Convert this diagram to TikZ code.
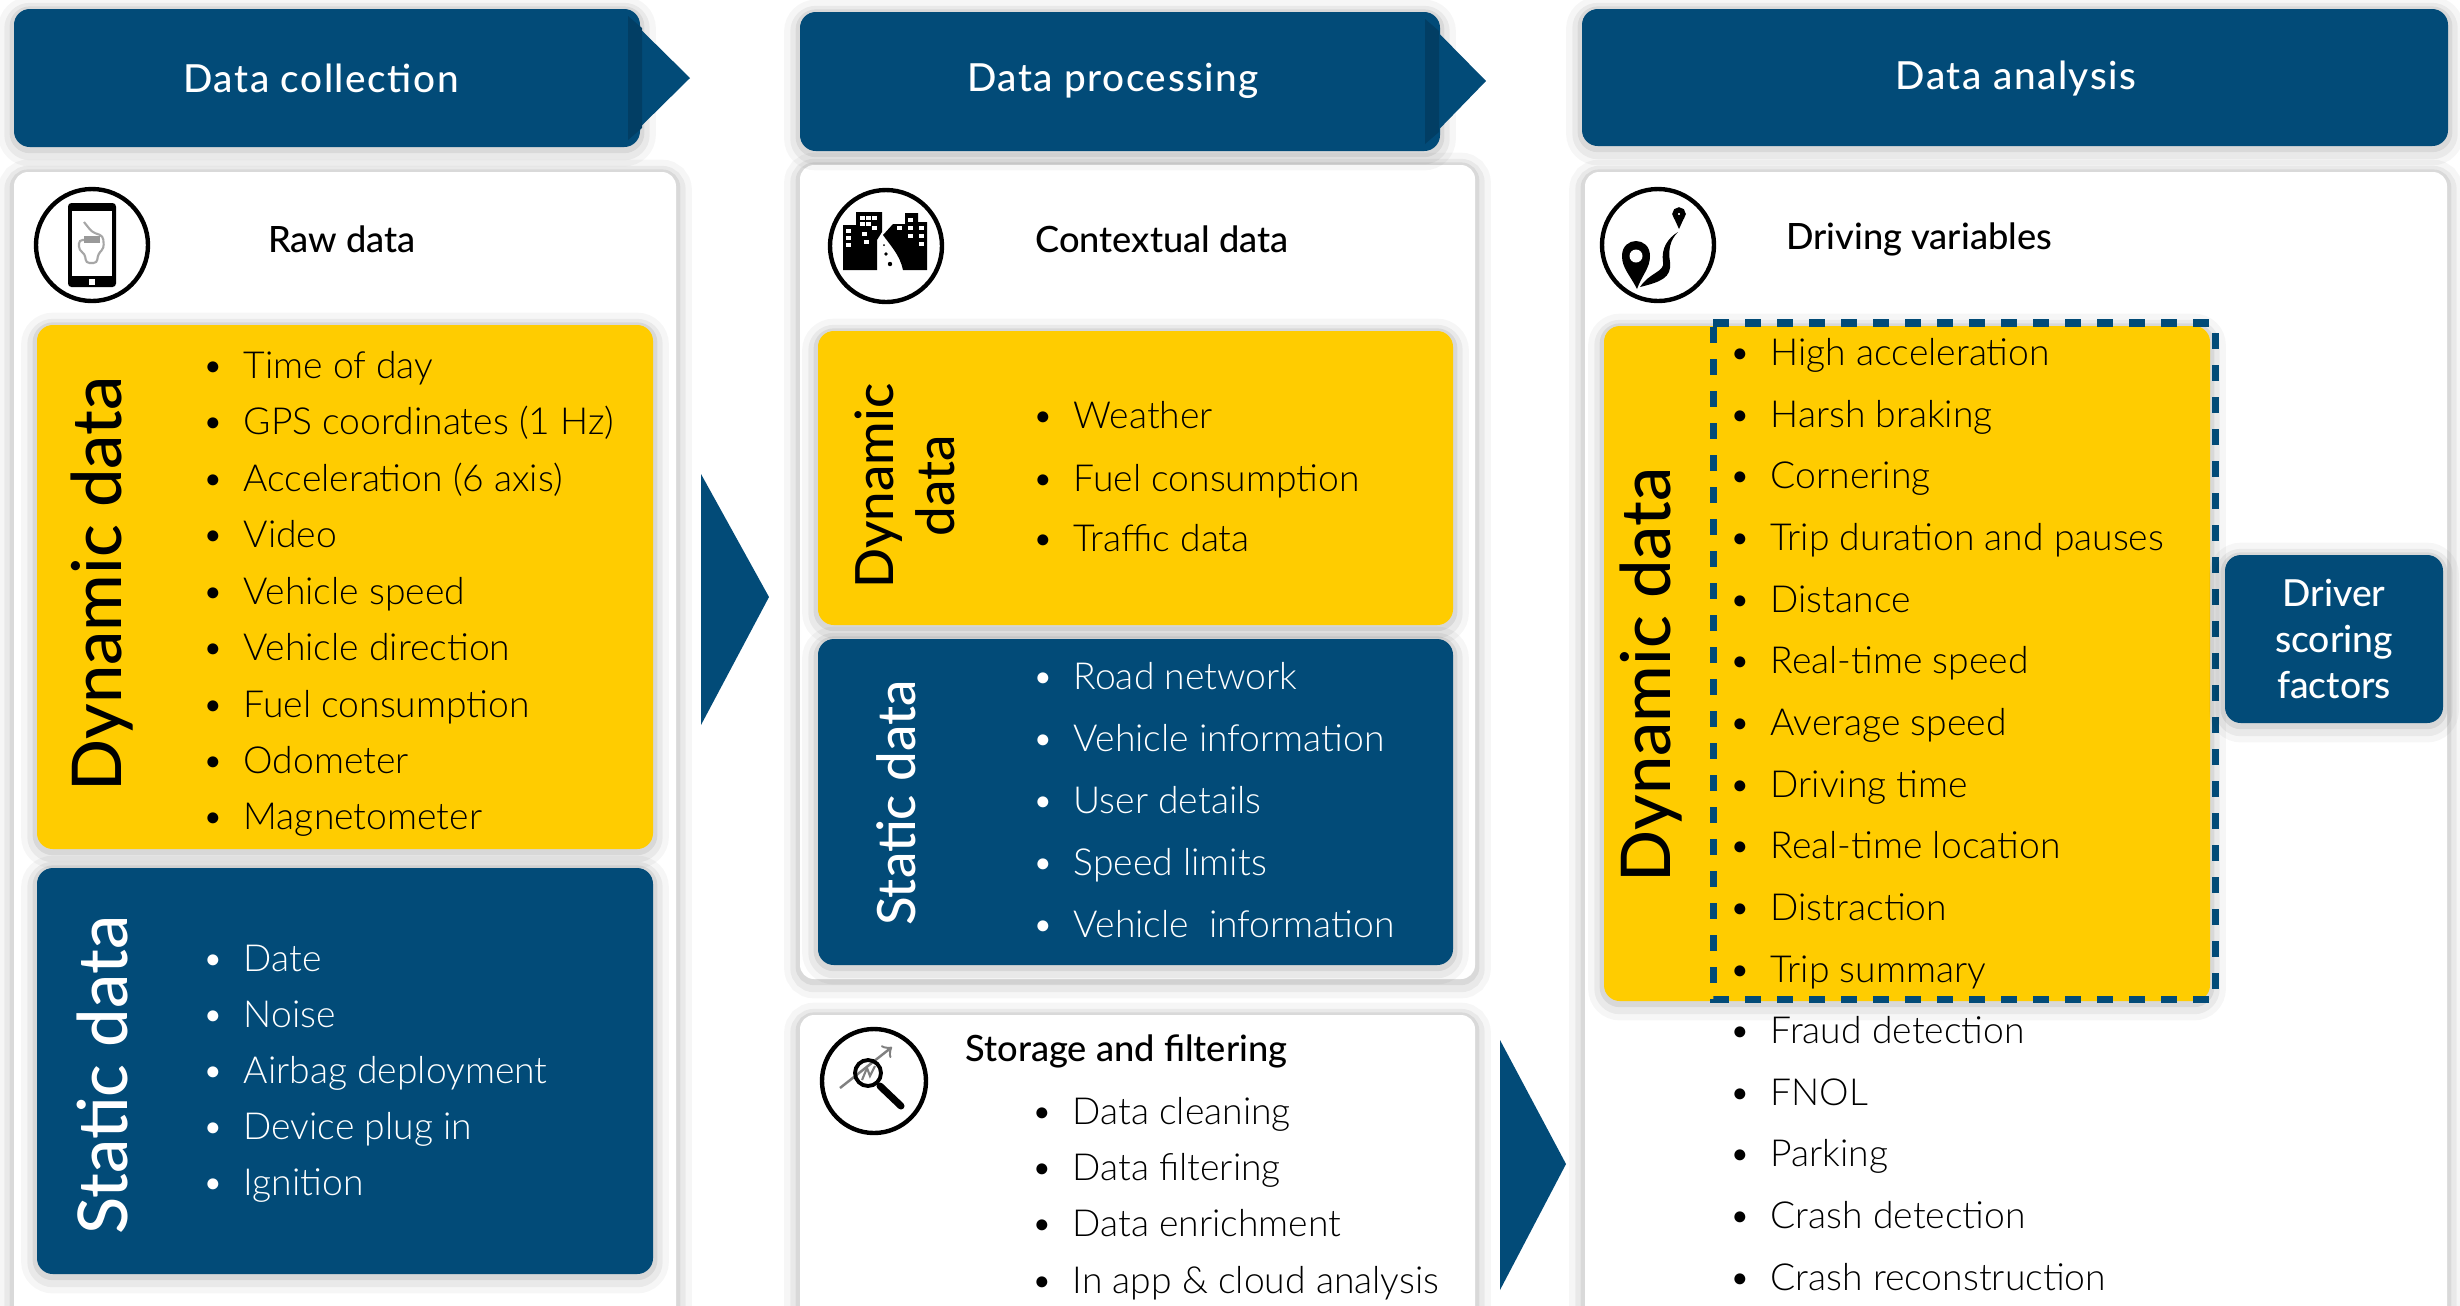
\documentclass[tikz,border=0pt]{standalone}
\usepackage{fontspec}
\setmainfont{Lato Light}[BoldFont=Lato]
\newfontfamily\medfont{Lato Medium}
\newfontfamily\headfont{Lato Medium}[LetterSpace=4]
\usetikzlibrary{positioning}

\definecolor{navy}{RGB}{2,75,120}
\definecolor{navydark}{RGB}{2,62,100}
\definecolor{amber}{RGB}{255,204,0}

\tikzset{
  softshadow/.style={
    preaction={draw=black,draw opacity=.035,fill=none,line width=9pt,transform canvas={yshift=-1pt}},
    preaction={draw=black,draw opacity=.05,fill=none,line width=5.5pt,transform canvas={yshift=-1pt}},
    preaction={draw=black,draw opacity=.07,fill=none,line width=2.5pt,transform canvas={yshift=-.5pt}}},
  panel/.style={fill=white,rounded corners=4pt,softshadow},
  yellowbox/.style={fill=amber,rounded corners=4.5pt,softshadow},
  bluebox/.style={fill=navy,rounded corners=4.5pt,softshadow},
  banner/.style={fill=navy,rounded corners=4.5pt,softshadow},
  bannertext/.style={text=white,font=\headfont\fontsize{11}{13}\selectfont},
  headtext/.style={font=\medfont\fontsize{10.3}{12}\selectfont},
  ring/.style={draw=black,line width=1.25pt,fill=white},
  listitem/.style={anchor=base west,inner sep=0pt,font=\fontsize{10.6}{12}\selectfont,
    execute at begin node=\llap{\textbullet\hspace{2mm}}},
  listwhite/.style={listitem,text=white},
  bigrot/.style={rotate=90,inner sep=0pt,font=\medfont\fontsize{19.5}{22}\selectfont},
  midrot/.style={rotate=90,inner sep=0pt,align=center,font=\medfont\fontsize{15}{17.5}\selectfont},
}

\begin{document}
\begin{tikzpicture}[x=0.01cm,y=-0.01cm]

\useasboundingbox (0,0) rectangle (2460,1305);

% white panels
\path [panel] (14,172) rectangle (676,1340);
\path [panel] (800,165) rectangle (1475,979);
\path [panel] (800,1015) rectangle (1475,1340);
\path [panel] (1585,172) rectangle (2447,1340);

% banners
\path [banner] (640,9) -- (14,9) -- (14,147) -- (640,147) -- cycle;
\path [banner] (1440,12) -- (800,12) -- (800,151) -- (1440,151) -- cycle;
\path [banner] (1582,9) rectangle (2448,146);
\fill [navy] (620,9) -- (690,78) -- (620,147) -- cycle;
\fill [navy] (1418,12) -- (1486,81) -- (1418,151) -- cycle;
\fill [navydark] (628,16) -- (628,140) -- (642,128) -- (642,28) -- cycle;
\fill [navydark] (1425,19) -- (1425,144) -- (1439,132) -- (1439,31) -- cycle;

\node [bannertext] (collect) at (321,78) {Data collection};
\node [bannertext] (process) at (1113,81) {Data processing};
\node [bannertext] (analyse) at (2016,79) {Data analysis};

% arrows between columns
\fill [navy] (701,474) -- (769,597) -- (701,725) -- cycle;
\fill [navy] (1500,1040) -- (1566,1164) -- (1500,1290) -- cycle;

% coloured boxes
\path [yellowbox] (37,325) rectangle (653,849);
\path [bluebox] (37,868) rectangle (653,1274);
\path [yellowbox] (818,331) rectangle (1453,625);
\path [bluebox] (818,639) rectangle (1453,965);
\path [yellowbox] (1604,326) rectangle (2210,1001);

\draw [navy,line width=2pt,dash pattern=on 4.55pt off 4.55pt]
    (1713,323) -- (2215,323) -- (2215,999) -- (1713,999) -- cycle;

\path [bluebox] (2225,555) rectangle (2443,723);
\node [text=white,align=center,font=\medfont\fontsize{10.6}{13}\selectfont] (driver) at (2334,639) {Driver\\scoring\\factors};

% headings
\node [headtext] (rawhead) at (342,239) {Raw data};
\node [headtext] (contexthead) at (1162,239) {Contextual data};
\node [headtext] (drivinghead) at (1919,239) {Driving variables};
\node [headtext,anchor=west,inner sep=0pt] (storehead) at (965,1051) {Storage and filtering};

% rotated titles
\node [bigrot] (dyn1) at (102,584) {Dynamic data};
\node [bigrot,text=white] (stat1) at (102,1075) {Static data};
\node [midrot] (dyn2) at (905,486) {Dynamic\\data};
\node [midrot,text=white] (stat2) at (896,803) {Static data};
\node [bigrot] (dyn3) at (1651,675) {Dynamic data};

% lists
\foreach \y/\t [count=\i] in {378/Time of day,434/GPS coordinates (1 Hz),491/Acceleration (6 axis),547/Video,604/Vehicle speed,660/Vehicle direction,717/Fuel consumption,773/Odometer,829/Magnetometer}
  \node [listitem] (rawdyn\i) at (243,\y) {\t};
\foreach \y/\t [count=\i] in {971/Date,1027/Noise,1083/Airbag deployment,1139/Device plug in,1195/Ignition}
  \node [listwhite] (rawstat\i) at (243,\y) {\t};
\foreach \y/\t [count=\i] in {428/Weather,491/Fuel consumption,551/Traffic data}
  \node [listitem] (ctxdyn\i) at (1073,\y) {\t};
\foreach \y/\t [count=\i] in {689/Road network,751/Vehicle information,813/User details,875/Speed limits,937/Vehicle~ information}
  \node [listwhite] (ctxstat\i) at (1073,\y) {\t};
\foreach \y/\t [count=\i] in {1124/Data cleaning,1180/Data filtering,1236/Data enrichment,1293/In app \& cloud analysis}
  \node [listitem] (store\i) at (1072,\y) {\t};
\foreach \y/\t [count=\i] in {365/High acceleration,427/Harsh braking,488/Cornering,550/Trip duration and pauses,612/Distance,673/Real-time speed,735/Average speed,797/Driving time,858/Real-time location,920/Distraction,982/Trip summary,1043/Fraud detection,1105/FNOL,1166/Parking,1228/Crash detection,1290/Crash reconstruction}
  \node [listitem] (var\i) at (1770,\y) {\t};

% icon: phone
\path [ring] (92,245) circle [radius=56];
\fill [black,rounded corners=1pt] (68,203) rectangle (116,287);
\fill [white] (72,211) rectangle (112,276);
\fill [white] (89,279) rectangle (95,285);
\draw [gray!70,line width=.6pt,rounded corners=1pt] (87,240) -- (79,240) -- (79,250) -- (85,254) -- (86,263) -- (97,263) -- (98,254) -- (104,248) -- (103,236) -- (92,232) -- (84,222);
\fill [gray!80] (84,236) rectangle (100,243);

% icon: city
\path [ring] (886,246) circle [radius=56];
\fill [black] (843,225) -- (856,225) -- (856,212) -- (882,212) -- (882,232) -- (877,240) -- (877,270) -- (843,270) -- cycle;
\fill [black] (883,235) -- (893,224) -- (905,224) -- (905,213) -- (918,213) -- (918,222) -- (927,222) -- (927,270) -- (903,270) .. controls (900,255) and (890,245) .. (883,235) -- cycle;
\foreach \x/\y in {860/216,860/222,866/216,866/222,872/216,846/229,846/236,846/243,862/232,864/240,872/226,897/226,908/218,908/226,908/234,919/226,919/234,919/242}
  \fill [white] (\x,\y) rectangle ++(5,3.5);
\fill [black] (884,245) circle [radius=1];
\fill [black] (886,254) circle [radius=1.8];
\fill [black] (890,264) circle [radius=2.2];

% icon: magnifier
\path [ring] (874,1081) circle [radius=52];
\draw [gray,line width=.7pt,->] (840,1088) -- (892,1047);
\draw [black,line width=1.1pt] (868,1073) circle [radius=13];
\draw [black,line width=2pt,line cap=round] (880,1086) -- (901,1106);
\draw [gray,line width=.6pt] (862,1080) -- (867,1068) -- (870,1076) -- (875,1066);

% icon: route
\path [ring] (1658,245) circle [radius=56];
\fill [black] (1637,289) .. controls (1630,275) and (1622,268) .. (1622,256) .. controls (1622,236) and (1650,236) .. (1650,256) .. controls (1650,268) and (1642,275) .. (1637,289) -- cycle;
\fill [white] (1636,256) circle [radius=6.5];
\draw [black,line width=1.5pt] (1679,214) circle [radius=4];
\fill [black] (1674,218) -- (1684,218) -- (1679,229) -- cycle;
\fill [black] (1640,287) .. controls (1660,282) and (1672,278) .. (1670,262) .. controls (1668,250) and (1670,240) .. (1678,232) .. controls (1668,238) and (1661,248) .. (1663,262) .. controls (1665,272) and (1650,272) .. (1640,287) -- cycle;

\end{tikzpicture}
\end{document}
